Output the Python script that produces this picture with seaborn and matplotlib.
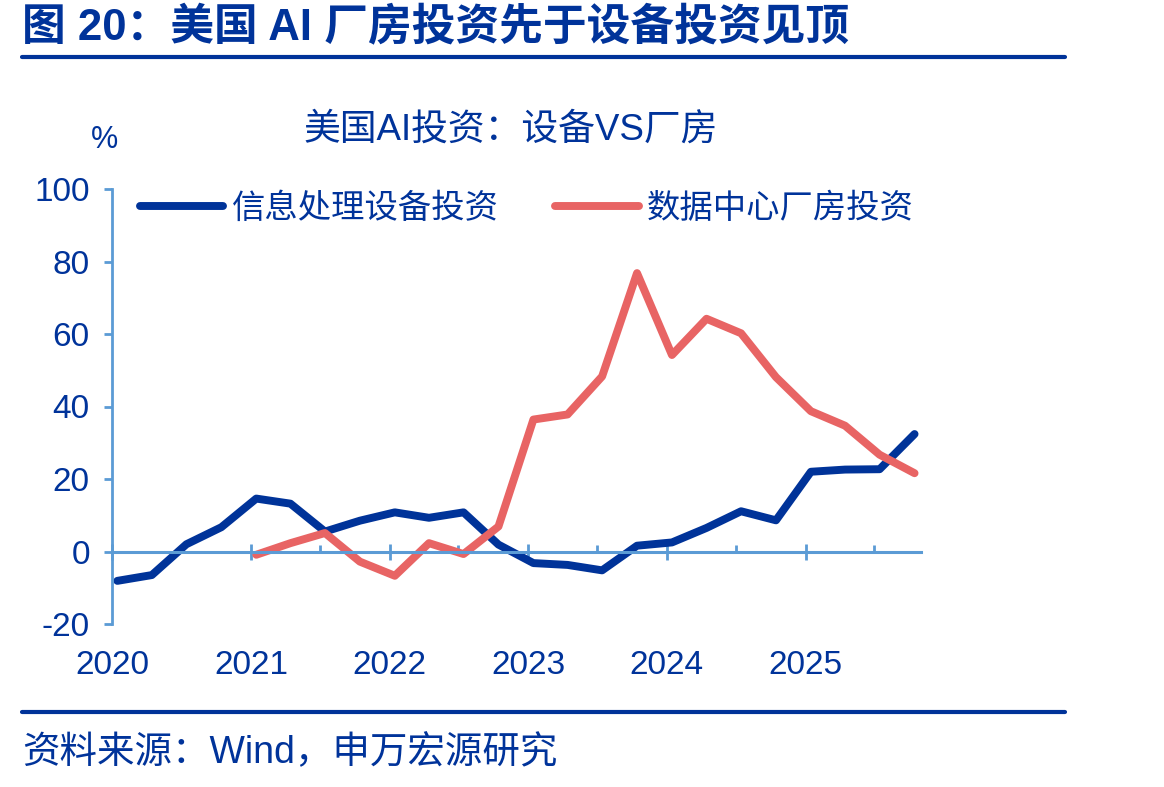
import pandas as pd
import matplotlib
matplotlib.use("Agg")
import matplotlib.pyplot as plt
import matplotlib.dates as mdates
from matplotlib.lines import Line2D
import seaborn as sns

# 季度数据（同比，%），2020Q1 - 2025Q4
quarters = pd.date_range("2020-01-01", periods=24, freq="QS") + pd.Timedelta(days=14)

equip_name = "信息处理设备投资"
plant_name = "数据中心厂房投资"

equip = [-8.1, -6.5, 2.0, 6.7, 14.6, 13.2, 5.5, 8.5, 10.8, 9.3, 10.8, 1.9,
         -3.2, -3.7, -5.2, 1.6, 2.5, 6.5, 11.1, 8.6, 22.0, 22.6, 22.7, 32.4]
# 厂房投资从 2021Q1 开始
plant = [-0.9, 2.3, 5.1, -2.8, -6.7, 2.3, -0.7, 6.9, 36.4, 37.8, 48.3, 76.8,
         54.2, 64.2, 60.2, 48.1, 38.7, 34.7, 26.7, 21.6]

blue = "#003399"
red = "#E86464"
axis_c = "#5B9BD5"
text_c = "#00339A"

df = pd.concat([
    pd.DataFrame({"date": quarters, "value": equip, "series": equip_name}),
    pd.DataFrame({"date": quarters[len(quarters) - len(plant):], "value": plant, "series": plant_name}),
])

sns.set_style("ticks")
plt.rcParams["font.family"] = ["Liberation Sans", "Noto Sans CJK SC"]
plt.rcParams["axes.unicode_minus"] = False

fig = plt.figure(figsize=(11.64, 7.87), dpi=100)
W, H = 1164, 787
ax = fig.add_axes([112 / W, 1 - 624 / H, (921 - 112) / W, (624 - 189) / H])

sns.lineplot(data=df, x="date", y="value", hue="series", palette=[blue, red],
             linewidth=5.7, solid_capstyle="round", legend=False, ax=ax)

ax.set_xlim(pd.Timestamp("2020-01-01"), pd.Timestamp("2025-11-01"))
ax.set_ylim(-20, 100)
ax.set_yticks(range(-20, 101, 20))
ax.set_xlabel("")
ax.set_ylabel("")

ax.xaxis.set_major_locator(mdates.YearLocator())
ax.xaxis.set_minor_locator(mdates.MonthLocator(bymonth=7))
ax.xaxis.set_major_formatter(mdates.DateFormatter("%Y"))

for s in ["top", "right"]:
    ax.spines[s].set_visible(False)
ax.spines["left"].set_color(axis_c)
ax.spines["left"].set_linewidth(2)
ax.spines["bottom"].set_position(("data", 0))
ax.spines["bottom"].set_color(axis_c)
ax.spines["bottom"].set_linewidth(2.2)

ax.tick_params(axis="x", which="major", bottom=True, direction="inout", length=12, width=2,
               color=axis_c, pad=65, labelsize=24, labelcolor=text_c)
ax.tick_params(axis="x", which="minor", bottom=True, direction="in", length=5, width=2,
               color=axis_c)
ax.tick_params(axis="y", left=True, direction="out", length=6, width=2, color=axis_c,
               pad=10, labelsize=24, labelcolor=text_c)

lines = ax.get_lines()[:2]
ax.legend(lines, [equip_name, plant_name], ncol=2, frameon=False, loc="center left",
          bbox_to_anchor=(140 / W, 1 - 209 / H), bbox_transform=fig.transFigure,
          fontsize=24, handlelength=2.5, handletextpad=0.25, columnspacing=1.7,
          labelcolor=text_c, borderaxespad=0, borderpad=0)

# 标题、分隔线、来源
fig.text(22 / W, 1 - 28 / H, "图 20：美国 AI 厂房投资先于设备投资见顶", fontsize=31.5,
         weight="bold", color=text_c, va="center", ha="left")
fig.add_artist(Line2D([22 / W, 1065 / W], [1 - 57 / H] * 2, lw=3, color=blue))
fig.add_artist(Line2D([22 / W, 1065 / W], [1 - 712 / H] * 2, lw=3, color=blue))
fig.text(511 / W, 1 - 130 / H, "美国AI投资：设备VS厂房", fontsize=26.5, color=text_c,
         ha="center", va="center")
fig.text(104 / W, 1 - 140 / H, "%", fontsize=22, color=text_c, ha="center", va="center")
fig.text(22 / W, 1 - 753 / H, "资料来源：Wind，申万宏源研究", fontsize=27, color=text_c,
         ha="left", va="center")

fig.savefig("out.png", dpi=100)
